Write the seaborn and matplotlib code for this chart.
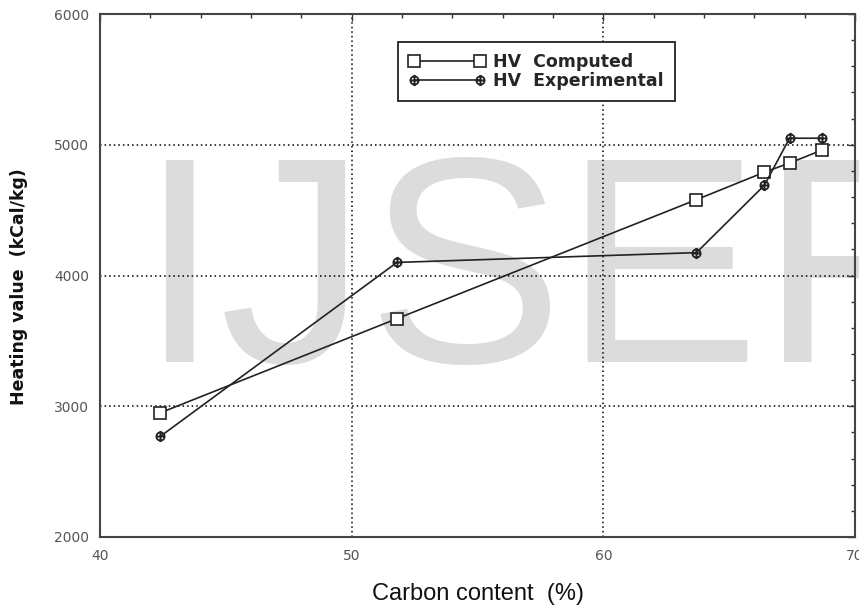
import numpy as np
import pandas as pd
import matplotlib
matplotlib.use("Agg")
import matplotlib.pyplot as plt
from matplotlib.path import Path
from matplotlib.ticker import MultipleLocator
import seaborn as sns

# values
carbon = [42.4, 51.8, 63.7, 66.4, 67.4, 68.7]
hv_computed = [2950, 3670, 4580, 4790, 4860, 4960]
hv_experimental = [2770, 4100, 4175, 4690, 5050, 5050]
series_names = ["HV  Computed", "HV  Experimental"]

df = pd.DataFrame({
    "carbon": carbon * 2,
    "hv": hv_computed + hv_experimental,
    "series": [series_names[0]] * len(carbon) + [series_names[1]] * len(carbon),
})

sns.set_style("white")
plt.rcParams["font.family"] = ["Liberation Sans", "DejaVu Sans"]

fig = plt.figure(figsize=(8.59, 6.05), dpi=100)
ax = fig.add_axes([100 / 859, 1 - 537 / 605, 755 / 859, 523 / 605])

# circle with a cross through it, like the original marker
circ_marker = Path.make_compound_path(
    Path.unit_circle(),
    Path([[0, -1.35], [0, 1.35]]),
    Path([[-1, 0], [1, 0]]),
)

comp = df[df["series"] == series_names[0]]
expe = df[df["series"] == series_names[1]]

sns.lineplot(data=comp, x="carbon", y="hv", ax=ax, color="#222222", lw=1.2,
             marker="s", markersize=9, markerfacecolor="white",
             markeredgecolor="#222222", markeredgewidth=1.2,
             label=series_names[0], sort=False, zorder=3)
sns.lineplot(data=expe, x="carbon", y="hv", ax=ax, color="#222222", lw=1.2,
             marker=circ_marker, markersize=8, markerfacecolor="none",
             markeredgecolor="#222222", markeredgewidth=1.3,
             label=series_names[1], sort=False, zorder=3)

# watermark
ax.text(139 / 859, 1 - 362 / 605, "IJSER", transform=fig.transFigure,
        fontsize=212, color="#dcdcdc", ha="left", va="baseline",
        family="Liberation Sans", zorder=0.2, clip_on=False)

ax.set_xlim(40, 70)
ax.set_ylim(2000, 6000)
ax.xaxis.set_major_locator(MultipleLocator(10))
ax.xaxis.set_minor_locator(MultipleLocator(2))
ax.yaxis.set_major_locator(MultipleLocator(1000))
ax.yaxis.set_minor_locator(MultipleLocator(200))
ax.tick_params(which="both", direction="in", top=True, right=True,
               colors="#333333", labelcolor="#555555", labelsize=10)
ax.tick_params(which="major", length=5, width=1)
ax.tick_params(which="minor", length=3, width=1)
ax.tick_params(axis="x", pad=9)
ax.tick_params(axis="y", pad=8)
for lab in ax.get_xticklabels() + ax.get_yticklabels():
    lab.set_family("DejaVu Sans")
ax.grid(True, which="major", color="black", linestyle=(0, (1, 2)), lw=1.1)
ax.set_axisbelow(True)
for sp in ax.spines.values():
    sp.set_color("#444444")
    sp.set_linewidth(1.5)

ax.set_xlabel("Carbon content  (%)", fontsize=17, labelpad=14, color="#111111")
ax.set_ylabel("Heating value  (kCal/kg)", fontsize=12.5, fontweight="bold",
              family="DejaVu Sans", color="#111111")
ax.yaxis.set_label_coords(-72 / 755, (537 - 287) / 523)

leg = ax.legend(loc="upper left", bbox_to_anchor=(298 / 755, 1 - 28 / 523),
                borderaxespad=0,
                frameon=True, fancybox=False, framealpha=1, edgecolor="#222222",
                handlelength=4.4, handletextpad=0.4, borderpad=0.65,
                labelspacing=0.02,
                prop={"weight": "bold", "size": 12.5, "family": "DejaVu Sans"},
                numpoints=2)
leg.get_frame().set_linewidth(1.3)

fig.savefig("out.png", dpi=100)
